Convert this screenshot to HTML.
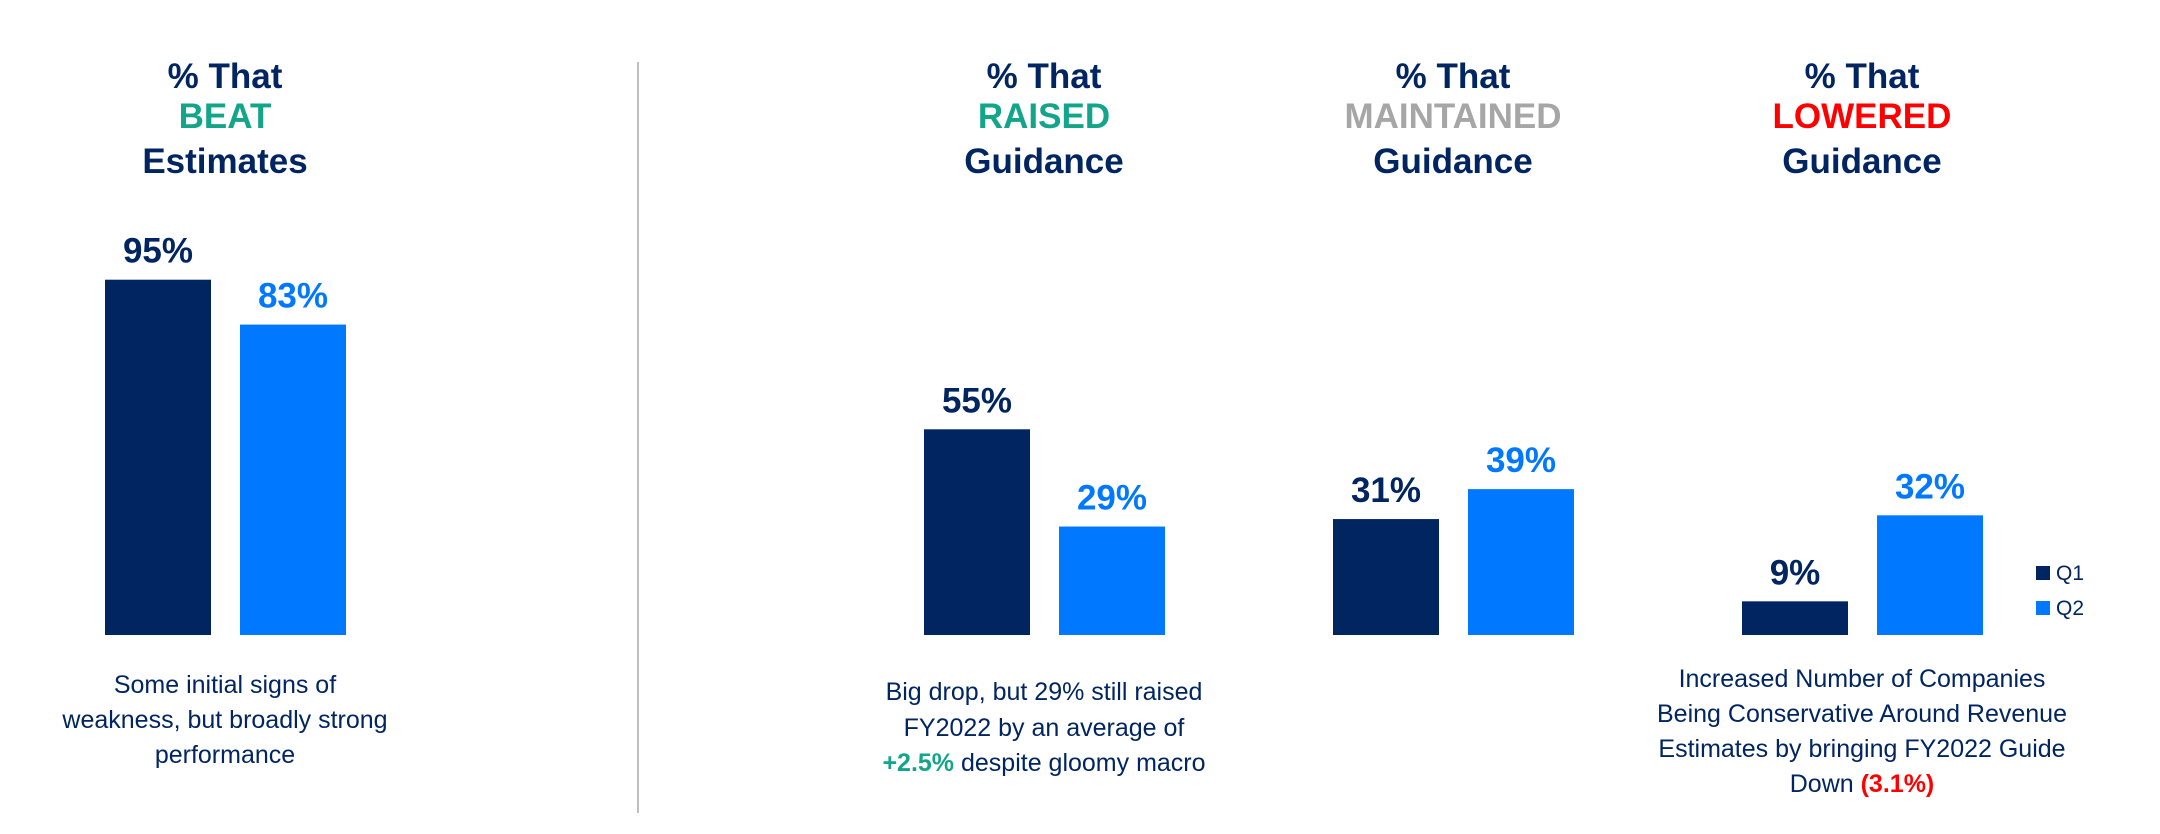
<!DOCTYPE html>
<html><head><meta charset="utf-8">
<style>
html,body{margin:0;padding:0;background:#fff;}
svg{display:block;font-family:"Liberation Sans Narrow","Liberation Sans",sans-serif;}
</style></head>
<body>
<svg id="chart" width="2160" height="834" viewBox="0 0 2160 834" xmlns="http://www.w3.org/2000/svg">
<line x1="638" y1="62" x2="638" y2="813" stroke="#BFBFBF" stroke-width="2"/>
<g id="titles" font-weight="bold" font-size="35" text-anchor="middle"></g>
<g id="bars"></g>
<g id="notes" font-size="25" fill="#002561" text-anchor="middle">
<text x="225" y="693">Some initial signs of</text>
<text x="225" y="728">weakness, but broadly strong</text>
<text x="225" y="763">performance</text>
<text x="1044" y="700">Big drop, but 29% still raised</text>
<text x="1044" y="736">FY2022 by an average of</text>
<text x="1044" y="771"><tspan fill="#12A58A" font-weight="bold">+2.5%</tspan> despite gloomy macro</text>
<text x="1862" y="687">Increased Number of Companies</text>
<text x="1862" y="722">Being Conservative Around Revenue</text>
<text x="1862" y="757">Estimates by bringing FY2022 Guide</text>
<text x="1862" y="792">Down <tspan fill="#FF0000" font-weight="bold">(3.1%)</tspan></text>
</g>
<g font-size="21" fill="#002561">
<rect x="2036" y="566" width="14" height="14" fill="#002561"/>
<text x="2056" y="580">Q1</text>
<rect x="2036" y="601" width="14" height="14" fill="#0078FF"/>
<text x="2056" y="615">Q2</text>
</g>
</svg>
<script>
const categories = ["BEAT", "RAISED", "MAINTAINED", "LOWERED"];
const q1Values = [95, 55, 31, 9];
const q2Values = [83, 29, 39, 32];
const titleWords = ["Estimates", "Guidance", "Guidance", "Guidance"];

const NS = "http://www.w3.org/2000/svg";
const baseY = 635, pxPerPct = 3.74, barW = 106;
const groupCenters = [225, 1044, 1453, 1862];
const titleColors = ["#12A58A", "#12A58A", "#A6A6A6", "#FF0000"];
function yScale(v){ return baseY - v * pxPerPct; }
function mk(tag, attrs, parent){
  const el = document.createElementNS(NS, tag);
  for (const k in attrs) el.setAttribute(k, attrs[k]);
  parent.appendChild(el);
  return el;
}
const bars = document.getElementById("bars");
const titles = document.getElementById("titles");
categories.forEach((cat, i) => {
  const cx = groupCenters[i];
  const key = cat.toLowerCase();
  const lines = [["% That", "#002561"], [cat, titleColors[i]], [titleWords[i], "#002561"]];
  const ys = [88, 128, 173];
  lines.forEach((ln, j) => {
    const t = mk("text", {x: cx, y: ys[j], fill: ln[1]}, titles);
    t.textContent = ln[0];
    
    
  });
  [[q1Values[i], "#002561", cx - 120, "q1"], [q2Values[i], "#0078FF", cx + 15, "q2"]].forEach(s => {
    const y = yScale(s[0]);
    const r = mk("rect", {x: s[2], y: y, width: barW, height: baseY - y, fill: s[1]}, bars);
    
    
    const t = mk("text", {x: s[2] + barW / 2, y: y - 17, fill: s[1], "font-weight": "bold", "font-size": "35", "text-anchor": "middle"}, bars);
    t.textContent = s[0] + "%";
    
    
  });
});
</script>
</body></html>
